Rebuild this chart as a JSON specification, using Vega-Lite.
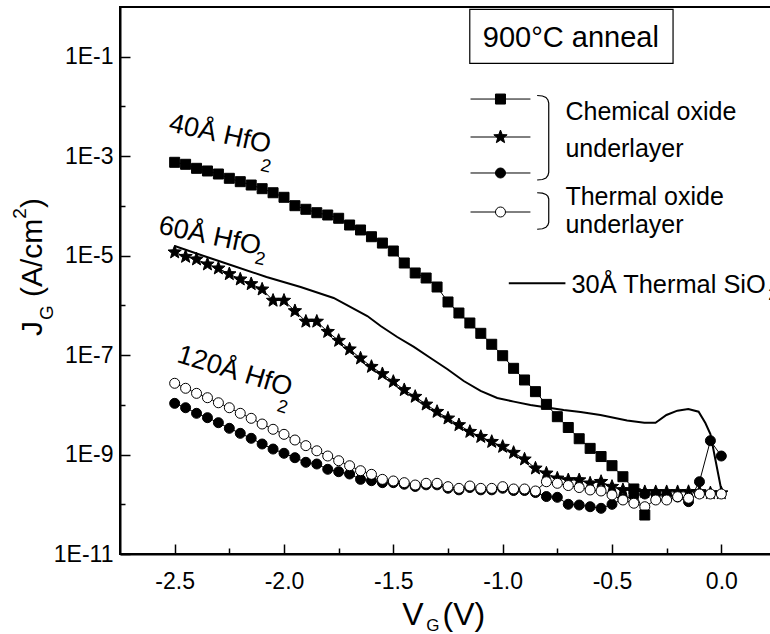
{
  "$schema": "https://vega.github.io/schema/vega-lite/v6.json",
  "width": 656,
  "height": 547,
  "autosize": {"type": "none"},
  "padding": {"left": 120, "top": 7, "right": -6, "bottom": 80},
  "config": {"font": "Liberation Sans", "view": {"stroke": "black", "strokeWidth": 2}},
  "datasets": {
    "curves": [
      {"s":"star","V":-2.5,"J":1.17e-5},{"s":"star","V":-2.45,"J":9.52e-6},{"s":"star","V":-2.4,"J":8.44e-6},{"s":"star","V":-2.35,"J":6.69e-6},{"s":"star","V":-2.3,"J":5.56e-6},{"s":"star","V":-2.25,"J":4.27e-6},{"s":"star","V":-2.2,"J":3.34e-6},{"s":"star","V":-2.15,"J":2.69e-6},{"s":"star","V":-2.1,"J":2.1e-6},{"s":"star","V":-2.05,"J":1.25e-6},{"s":"star","V":-2.0,"J":1.25e-6},{"s":"star","V":-1.95,"J":7.71e-7},{"s":"star","V":-1.9,"J":4.74e-7},{"s":"star","V":-1.85,"J":4.74e-7},{"s":"star","V":-1.8,"J":2.95e-7},{"s":"star","V":-1.75,"J":1.95e-7},{"s":"star","V":-1.7,"J":1.31e-7},{"s":"star","V":-1.65,"J":8.61e-8},{"s":"star","V":-1.6,"J":5.84e-8},{"s":"star","V":-1.55,"J":4.17e-8},{"s":"star","V":-1.5,"J":2.92e-8},{"s":"star","V":-1.45,"J":1.99e-8},{"s":"star","V":-1.4,"J":1.46e-8},{"s":"star","V":-1.35,"J":1.02e-8},{"s":"star","V":-1.3,"J":7.27e-9},{"s":"star","V":-1.25,"J":5.35e-9},{"s":"star","V":-1.2,"J":3.93e-9},{"s":"star","V":-1.15,"J":2.88e-9},{"s":"star","V":-1.1,"J":2.28e-9},{"s":"star","V":-1.05,"J":1.81e-9},{"s":"star","V":-1.0,"J":1.44e-9},{"s":"star","V":-0.95,"J":1.09e-9},{"s":"star","V":-0.9,"J":8.02e-10},{"s":"star","V":-0.85,"J":5.28e-10},{"s":"star","V":-0.8,"J":4.19e-10},{"s":"star","V":-0.75,"J":3.32e-10},{"s":"star","V":-0.7,"J":3.07e-10},{"s":"star","V":-0.65,"J":3.07e-10},{"s":"star","V":-0.6,"J":2.64e-10},{"s":"star","V":-0.55,"J":2.84e-10},{"s":"star","V":-0.5,"J":2.26e-10},{"s":"star","V":-0.45,"J":1.94e-10},{"s":"star","V":-0.4,"J":1.85e-10},{"s":"star","V":-0.35,"J":1.77e-10},{"s":"star","V":-0.3,"J":1.77e-10},{"s":"star","V":-0.25,"J":1.77e-10},{"s":"star","V":-0.2,"J":1.77e-10},{"s":"star","V":-0.15,"J":1.78e-10},{"s":"star","V":-0.1,"J":1.77e-10},{"s":"star","V":-0.05,"J":1.68e-10},{"s":"star","V":0.0,"J":1.68e-10},
      {"s":"fc","V":-2.5,"J":1.07e-8},{"s":"fc","V":-2.45,"J":8.74e-9},{"s":"fc","V":-2.4,"J":6.75e-9},{"s":"fc","V":-2.35,"J":5.51e-9},{"s":"fc","V":-2.3,"J":4.37e-9},{"s":"fc","V":-2.25,"J":3.37e-9},{"s":"fc","V":-2.2,"J":2.67e-9},{"s":"fc","V":-2.15,"J":2.12e-9},{"s":"fc","V":-2.1,"J":1.63e-9},{"s":"fc","V":-2.05,"J":1.29e-9},{"s":"fc","V":-2.0,"J":1.06e-9},{"s":"fc","V":-1.95,"J":8.64e-10},{"s":"fc","V":-1.9,"J":6.98e-10},{"s":"fc","V":-1.85,"J":6.45e-10},{"s":"fc","V":-1.8,"J":5.05e-10},{"s":"fc","V":-1.75,"J":4.52e-10},{"s":"fc","V":-1.7,"J":4.06e-10},{"s":"fc","V":-1.65,"J":3.17e-10},{"s":"fc","V":-1.6,"J":2.98e-10},{"s":"fc","V":-1.55,"J":2.72e-10},{"s":"fc","V":-1.5,"J":2.72e-10},{"s":"fc","V":-1.45,"J":2.53e-10},{"s":"fc","V":-1.4,"J":2.28e-10},{"s":"fc","V":-1.35,"J":2.46e-10},{"s":"fc","V":-1.3,"J":2.46e-10},{"s":"fc","V":-1.25,"J":2.1e-10},{"s":"fc","V":-1.2,"J":1.95e-10},{"s":"fc","V":-1.15,"J":2.17e-10},{"s":"fc","V":-1.1,"J":1.95e-10},{"s":"fc","V":-1.05,"J":1.95e-10},{"s":"fc","V":-1.0,"J":2.1e-10},{"s":"fc","V":-0.95,"J":1.89e-10},{"s":"fc","V":-0.9,"J":1.89e-10},{"s":"fc","V":-0.85,"J":1.72e-10},{"s":"fc","V":-0.8,"J":1.43e-10},{"s":"fc","V":-0.75,"J":1.38e-10},{"s":"fc","V":-0.7,"J":1.0e-10},{"s":"fc","V":-0.65,"J":9.66e-11},{"s":"fc","V":-0.6,"J":8.93e-11},{"s":"fc","V":-0.55,"J":8.29e-11},{"s":"fc","V":-0.5,"J":9.98e-11},{"s":"fc","V":-0.45,"J":1.28e-10},{"s":"fc","V":-0.4,"J":1.47e-10},{"s":"fc","V":-0.35,"J":1.61e-10},{"s":"fc","V":-0.3,"J":1.61e-10},{"s":"fc","V":-0.25,"J":1.54e-10},{"s":"fc","V":-0.2,"J":1.4e-10},{"s":"fc","V":-0.15,"J":1.13e-10},{"s":"fc","V":-0.1,"J":2.84e-10},{"s":"fc","V":-0.05,"J":1.9e-9},{"s":"fc","V":0.0,"J":9.34e-10},
      {"s":"oc","V":-2.5,"J":2.71e-8},{"s":"oc","V":-2.45,"J":2.15e-8},{"s":"oc","V":-2.4,"J":1.7e-8},{"s":"oc","V":-2.35,"J":1.39e-8},{"s":"oc","V":-2.3,"J":1.1e-8},{"s":"oc","V":-2.25,"J":8.74e-9},{"s":"oc","V":-2.2,"J":6.75e-9},{"s":"oc","V":-2.15,"J":5.35e-9},{"s":"oc","V":-2.1,"J":4.11e-9},{"s":"oc","V":-2.05,"J":3.22e-9},{"s":"oc","V":-2.0,"J":2.55e-9},{"s":"oc","V":-1.95,"J":1.96e-9},{"s":"oc","V":-1.9,"J":1.51e-9},{"s":"oc","V":-1.85,"J":1.19e-9},{"s":"oc","V":-1.8,"J":9.34e-10},{"s":"oc","V":-1.75,"J":7.51e-10},{"s":"oc","V":-1.7,"J":5.96e-10},{"s":"oc","V":-1.65,"J":4.73e-10},{"s":"oc","V":-1.6,"J":4.0e-10},{"s":"oc","V":-1.55,"J":3.17e-10},{"s":"oc","V":-1.5,"J":2.94e-10},{"s":"oc","V":-1.45,"J":2.72e-10},{"s":"oc","V":-1.4,"J":2.44e-10},{"s":"oc","V":-1.35,"J":2.64e-10},{"s":"oc","V":-1.3,"J":2.64e-10},{"s":"oc","V":-1.25,"J":2.26e-10},{"s":"oc","V":-1.2,"J":2.09e-10},{"s":"oc","V":-1.15,"J":2.33e-10},{"s":"oc","V":-1.1,"J":2.09e-10},{"s":"oc","V":-1.05,"J":2.09e-10},{"s":"oc","V":-1.0,"J":2.26e-10},{"s":"oc","V":-0.95,"J":2.03e-10},{"s":"oc","V":-0.9,"J":2.03e-10},{"s":"oc","V":-0.85,"J":1.85e-10},{"s":"oc","V":-0.8,"J":2.84e-10},{"s":"oc","V":-0.75,"J":2.64e-10},{"s":"oc","V":-0.7,"J":2.38e-10},{"s":"oc","V":-0.65,"J":2.17e-10},{"s":"oc","V":-0.6,"J":1.94e-10},{"s":"oc","V":-0.55,"J":1.85e-10},{"s":"oc","V":-0.5,"J":1.54e-10},{"s":"oc","V":-0.45,"J":1.22e-10},{"s":"oc","V":-0.4,"J":1.05e-10},{"s":"oc","V":-0.35,"J":8.93e-11},{"s":"oc","V":-0.3,"J":1.22e-10},{"s":"oc","V":-0.25,"J":1.22e-10},{"s":"oc","V":-0.2,"J":1.42e-10},{"s":"oc","V":-0.15,"J":1.32e-10},{"s":"oc","V":-0.1,"J":1.61e-10},{"s":"oc","V":-0.05,"J":1.61e-10},{"s":"oc","V":0.0,"J":1.61e-10},
      {"s":"sq","V":-2.5,"J":7.53e-4},{"s":"sq","V":-2.45,"J":6.87e-4},{"s":"sq","V":-2.4,"J":5.7e-4},{"s":"sq","V":-2.35,"J":5.04e-4},{"s":"sq","V":-2.3,"J":4.38e-4},{"s":"sq","V":-2.25,"J":3.59e-4},{"s":"sq","V":-2.2,"J":3.07e-4},{"s":"sq","V":-2.15,"J":2.63e-4},{"s":"sq","V":-2.1,"J":2.22e-4},{"s":"sq","V":-2.05,"J":1.84e-4},{"s":"sq","V":-2.0,"J":1.49e-4},{"s":"sq","V":-1.95,"J":1.01e-4},{"s":"sq","V":-1.9,"J":8.55e-5},{"s":"sq","V":-1.85,"J":7.3e-5},{"s":"sq","V":-1.8,"J":6.56e-5},{"s":"sq","V":-1.75,"J":5.64e-5},{"s":"sq","V":-1.7,"J":4.13e-5},{"s":"sq","V":-1.65,"J":3.28e-5},{"s":"sq","V":-1.6,"J":2.4e-5},{"s":"sq","V":-1.55,"J":1.79e-5},{"s":"sq","V":-1.5,"J":1.24e-5},{"s":"sq","V":-1.45,"J":7.11e-6},{"s":"sq","V":-1.4,"J":4.48e-6},{"s":"sq","V":-1.35,"J":3.55e-6},{"s":"sq","V":-1.3,"J":2.34e-6},{"s":"sq","V":-1.25,"J":1.17e-6},{"s":"sq","V":-1.2,"J":7.02e-7},{"s":"sq","V":-1.15,"J":4.42e-7},{"s":"sq","V":-1.1,"J":2.74e-7},{"s":"sq","V":-1.05,"J":1.65e-7},{"s":"sq","V":-1.0,"J":9.72e-8},{"s":"sq","V":-0.95,"J":5.42e-8},{"s":"sq","V":-0.9,"J":3.16e-8},{"s":"sq","V":-0.85,"J":1.84e-8},{"s":"sq","V":-0.8,"J":1.02e-8},{"s":"sq","V":-0.75,"J":5.77e-9},{"s":"sq","V":-0.7,"J":3.5e-9},{"s":"sq","V":-0.65,"J":2.08e-9},{"s":"sq","V":-0.6,"J":1.33e-9},{"s":"sq","V":-0.55,"J":9.12e-10},{"s":"sq","V":-0.5,"J":5.97e-10},{"s":"sq","V":-0.45,"J":3.58e-10},{"s":"sq","V":-0.4,"J":2.03e-10},{"s":"sq","V":-0.35,"J":6.08e-11}
    ],
    "sio2": [
      {"V":-2.5,"J":1.56e-5},{"V":-2.38,"J":1.03e-5},{"V":-2.23,"J":6.19e-6},{"V":-2.08,"J":3.72e-6},{"V":-1.924,"J":2.34e-6},{"V":-1.773,"J":1.41e-6},{"V":-1.619,"J":6.11e-7},{"V":-1.558,"J":3.85e-7},{"V":-1.482,"J":2.31e-7},{"V":-1.406,"J":1.46e-7},{"V":-1.33,"J":8.73e-8},{"V":-1.254,"J":5.25e-8},{"V":-1.178,"J":3.01e-8},{"V":-1.101,"J":1.9e-8},{"V":-1.025,"J":1.37e-8},{"V":-0.949,"J":1.16e-8},{"V":-0.873,"J":9.91e-9},{"V":-0.797,"J":8.83e-9},{"V":-0.721,"J":7.87e-9},{"V":-0.644,"J":7.16e-9},{"V":-0.553,"J":6.24e-9},{"V":-0.431,"J":4.83e-9},{"V":-0.352,"J":4.37e-9},{"V":-0.301,"J":4.37e-9},{"V":-0.251,"J":6.24e-9},{"V":-0.201,"J":7.62e-9},{"V":-0.151,"J":8.24e-9},{"V":-0.104,"J":7.26e-9},{"V":-0.073,"J":4.31e-9},{"V":-0.05,"J":2.59e-9},{"V":0.0,"J":1.94e-10}
    ],
    "keyPts": [
      {"s":"sq","V":-1.01,"J":0.0141},{"s":"star","V":-1.01,"J":0.00243},{"s":"fc","V":-1.01,"J":0.000459},{"s":"oc","V":-1.01,"J":0.0000754}
    ],
    "keyLines": [
      {"V":-1.147,"V2":-0.873,"J":0.0141},{"V":-1.147,"V2":-0.873,"J":0.00243},{"V":-1.147,"V2":-0.873,"J":0.000459},{"V":-1.147,"V2":-0.873,"J":0.0000754}
    ],
    "brackets": [
      {"b":1,"o":1,"V":-0.8423,"J":1.661e-2},{"b":1,"o":2,"V":-0.8181,"J":1.623e-2},{"b":1,"o":3,"V":-0.8021,"J":1.514e-2},{"b":1,"o":4,"V":-0.793,"J":1.349e-2},{"b":1,"o":5,"V":-0.7893,"J":1.173e-2},{"b":1,"o":6,"V":-0.7893,"J":4.7e-4},{"b":1,"o":7,"V":-0.793,"J":4.09e-4},{"b":1,"o":8,"V":-0.8021,"J":3.64e-4},{"b":1,"o":9,"V":-0.8181,"J":3.4e-4},{"b":1,"o":10,"V":-0.8423,"J":3.32e-4},
      {"b":2,"o":1,"V":-0.8423,"J":1.84e-4},{"b":2,"o":2,"V":-0.8181,"J":1.8e-4},{"b":2,"o":3,"V":-0.8021,"J":1.7e-4},{"b":2,"o":4,"V":-0.793,"J":1.55e-4},{"b":2,"o":5,"V":-0.7893,"J":1.38e-4},{"b":2,"o":6,"V":-0.7893,"J":4.64e-5},{"b":2,"o":7,"V":-0.793,"J":4.13e-5},{"b":2,"o":8,"V":-0.8021,"J":3.71e-5},{"b":2,"o":9,"V":-0.8181,"J":3.47e-5},{"b":2,"o":10,"V":-0.8423,"J":3.39e-5}
    ]
  },
  "encoding": {
    "x": {
      "field": "V", "type": "quantitative",
      "scale": {"domain": [-2.75, 0.25], "nice": false, "zero": false},
      "axis": {
        "title": null,
        "values": [-2.5,-2.25,-2,-1.75,-1.5,-1.25,-1,-0.75,-0.5,-0.25,0],
        "labelExpr": "abs(datum.value*2 - round(datum.value*2)) < 0.01 ? (datum.value < -0.001 ? '-' : '') + format(abs(datum.value), '.1f') : ''",
        "tickSize": {"condition": {"test": "abs(datum.value*2 - round(datum.value*2)) < 0.01", "value": -10}, "value": -6},
        "labelPadding": 26,
        "labelFontSize": 23, "labelColor": "black", "labelFont": "Liberation Sans",
        "domainColor": "black", "domainWidth": 2, "tickColor": "black", "tickWidth": 1.5,
        "grid": false, "labelFlush": false, "labelOverlap": false
      }
    },
    "y": {
      "field": "J", "type": "quantitative",
      "scale": {"type": "log", "domain": [1e-11, 1], "nice": false},
      "axis": {
        "title": null,
        "values": [1e-11,1e-10,1e-9,1e-8,1e-7,1e-6,1e-5,1e-4,1e-3,1e-2,1e-1],
        "labelExpr": "abs(round(log(datum.value)/LN10)) % 2 == 1 ? '1E' + round(log(datum.value)/LN10) : ''",
        "tickSize": {"condition": {"test": "abs(round(log(datum.value)/LN10)) % 2 == 1", "value": -10}, "value": -5},
        "labelPadding": 17,
        "labelFontSize": 23, "labelColor": "black", "labelFont": "Liberation Sans",
        "domainColor": "black", "domainWidth": 2, "tickColor": "black", "tickWidth": 1.5,
        "grid": false, "labelFlush": false, "labelOverlap": false
      }
    }
  },
  "layer": [
    {"data": {"name": "curves"}, "mark": {"type": "line", "stroke": "black", "strokeWidth": 1}, "encoding": {"detail": {"field": "s"}}},
    {"data": {"name": "sio2"}, "mark": {"type": "line", "stroke": "black", "strokeWidth": 2}, "encoding": {}},
    {"data": {"name": "curves"}, "mark": {"type": "point", "filled": true, "size": 100, "stroke": "black", "strokeWidth": 1, "opacity": 1},
     "encoding": {
       "shape": {"field": "s", "type": "nominal", "legend": null, "scale": {"domain": ["sq","star","fc","oc"], "range": ["square", "M0,-1.4L0.353,-0.485L1.331,-0.433L0.571,0.185L0.823,1.133L0,0.6L-0.823,1.133L-0.571,0.185L-1.331,-0.433L-0.353,-0.485Z", "circle", "circle"]}},
       "fill": {"field": "s", "type": "nominal", "legend": null, "scale": {"domain": ["sq","star","fc","oc"], "range": ["black","black","black","white"]}}
     }},
    {"data": {"name": "keyLines"}, "mark": {"type": "rule", "stroke": "black", "strokeWidth": 1}, "encoding": {"x2": {"field": "V2"}}},
    {"data": {"name": "keyPts"}, "mark": {"type": "point", "filled": true, "size": 100, "stroke": "black", "strokeWidth": 1, "opacity": 1},
     "encoding": {
       "shape": {"field": "s", "type": "nominal", "legend": null},
       "fill": {"field": "s", "type": "nominal", "legend": null}
     }},
    {"data": {"name": "brackets"}, "mark": {"type": "line", "stroke": "black", "strokeWidth": 1.2}, "encoding": {"detail": {"field": "b"}, "order": {"field": "o"}}},
    {"data": {"values": [{"V":-0.972,"V2":-0.713,"J":2.78e-6}]}, "mark": {"type": "rule", "stroke": "black", "strokeWidth": 2}, "encoding": {"x2": {"field": "V2"}}},
    {"data": {"values": [{"V":-1.1504,"V2":-0.2208,"J":0.899,"J2":0.0738}]}, "mark": {"type": "rect", "fill": "white", "fillOpacity": 0, "stroke": "black", "strokeWidth": 1.2}, "encoding": {"x2": {"field": "V2"}, "y2": {"field": "J2"}}},
    {"data": {"values": [{"t":"900°C anneal","V":-0.688,"J":0.159}]}, "mark": {"type": "text", "fontSize": 29, "align": "center", "baseline": "alphabetic", "color": "black"}, "encoding": {"text": {"field": "t"}}},
    {"data": {"values": [{"t":"Chemical oxide","V":-0.713,"J":5.34e-3},{"t":"underlayer","V":-0.713,"J":9.77e-4},{"t":"Thermal oxide","V":-0.713,"J":1.04e-4},{"t":"underlayer","V":-0.713,"J":2.81e-5}]}, "mark": {"type": "text", "fontSize": 25, "align": "left", "baseline": "alphabetic", "color": "black"}, "encoding": {"text": {"field": "t"}}},
    {"data": {"values": [{"t":"30Å Thermal SiO","V":-0.6855,"J":1.75e-6}]}, "mark": {"type": "text", "fontSize": 25.4, "align": "left", "baseline": "alphabetic", "color": "black"}, "encoding": {"text": {"field": "t"}}},
    {"data": {"values": [{"t":"2","V":0.2148,"J":1.28e-6}]}, "mark": {"type": "text", "fontSize": 17, "align": "left", "baseline": "alphabetic", "color": "black"}, "encoding": {"text": {"field": "t"}}},
    {"data": {"values": [{"t":"40Å HfO","V":-2.532,"J":3.21e-3}]}, "mark": {"type": "text", "fontSize": 27, "angle": 12.5, "align": "left", "baseline": "alphabetic", "color": "black"}, "encoding": {"text": {"field": "t"}}},
    {"data": {"values": [{"t":"2","V":-2.0841,"J":6.14e-4}]}, "mark": {"type": "text", "fontSize": 18, "angle": 12.5, "align": "center", "baseline": "middle", "color": "black"}, "encoding": {"text": {"field": "t"}}},
    {"data": {"values": [{"t":"60Å HfO","V":-2.579,"J":2.81e-5}]}, "mark": {"type": "text", "fontSize": 27, "angle": 12, "align": "left", "baseline": "alphabetic", "color": "black"}, "encoding": {"text": {"field": "t"}}},
    {"data": {"values": [{"t":"2","V":-2.11,"J":8.44e-6}]}, "mark": {"type": "text", "fontSize": 18, "angle": 12, "align": "center", "baseline": "middle", "color": "black"}, "encoding": {"text": {"field": "t"}}},
    {"data": {"values": [{"t":"120Å HfO","V":-2.4954,"J":7.36e-8}]}, "mark": {"type": "text", "fontSize": 27, "angle": 17, "align": "left", "baseline": "alphabetic", "color": "black"}, "encoding": {"text": {"field": "t"}}},
    {"data": {"values": [{"t":"2","V":-2.0078,"J":8.83e-9}]}, "mark": {"type": "text", "fontSize": 18, "angle": 17, "align": "center", "baseline": "middle", "color": "black"}, "encoding": {"text": {"field": "t"}}},
    {"data": {"values": [{"t":"V","V":-1.4593,"J":3.73e-13},{"t":"(V)","V":-1.2752,"J":3.73e-13}]}, "mark": {"type": "text", "fontSize": 32, "align": "left", "baseline": "alphabetic", "color": "black"}, "encoding": {"text": {"field": "t"}}},
    {"data": {"values": [{"t":"G","V":-1.3497,"J":2.85e-13}]}, "mark": {"type": "text", "fontSize": 17, "align": "left", "baseline": "alphabetic", "color": "black"}, "encoding": {"text": {"field": "t"}}},
    {"data": {"values": [{"t":"J","V":-3.1079,"J":2.42e-7},{"t":"(A/cm","V":-3.1079,"J":1.47e-6},{"t":")","V":-3.1079,"J":9.08e-5}]}, "mark": {"type": "text", "fontSize": 30, "angle": 270, "align": "left", "baseline": "alphabetic", "color": "black"}, "encoding": {"text": {"field": "t"}}},
    {"data": {"values": [{"t":"G","V":-3.0576,"J":5.08e-7},{"t":"2","V":-3.181,"J":5.53e-5}]}, "mark": {"type": "text", "fontSize": 19, "angle": 270, "align": "left", "baseline": "alphabetic", "color": "black"}, "encoding": {"text": {"field": "t"}}}
  ]
}
